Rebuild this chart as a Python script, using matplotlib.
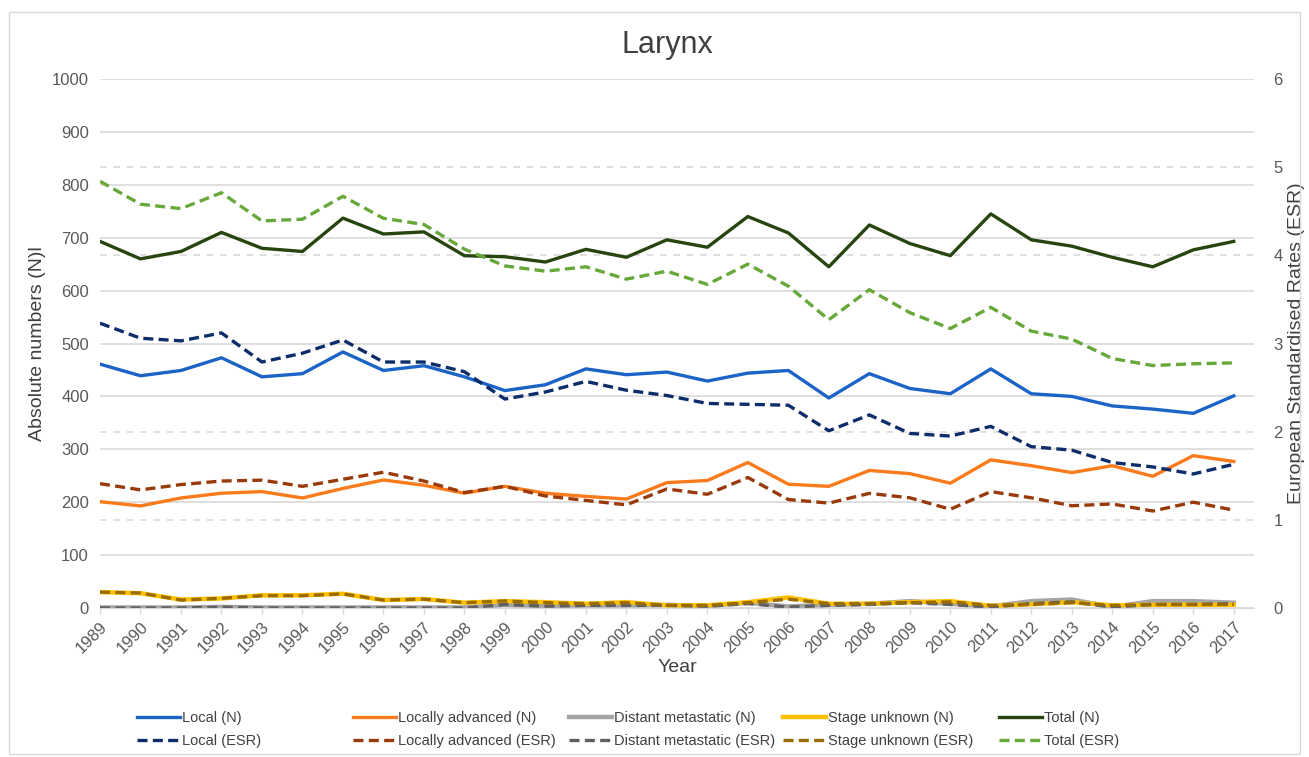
import numpy as np
import matplotlib.pyplot as plt
from matplotlib.ticker import MultipleLocator
from matplotlib.patches import Rectangle

plt.rcParams['font.family'] = ['Liberation Sans', 'DejaVu Sans']

years = list(range(1989, 2018))

# absolute numbers (left axis)
local_n = [461, 439, 449, 473, 437, 443, 484, 449, 458, 437, 411, 422, 452, 441, 446,
           429, 444, 449, 397, 443, 415, 405, 452, 405, 400, 382, 376, 368, 401]
loc_adv_n = [201, 193, 208, 217, 220, 208, 226, 242, 232, 217, 230, 217, 211, 206, 237,
             241, 275, 234, 230, 260, 254, 236, 280, 269, 256, 269, 249, 288, 277]
distant_n = [1, 1, 1, 2, 1, 1, 1, 1, 1, 1, 6, 4, 5, 5, 6,
             4, 10, 3, 6, 8, 13, 8, 3, 13, 16, 2, 13, 13, 10]
unknown_n = [30, 28, 16, 18, 24, 24, 27, 15, 17, 10, 13, 11, 8, 11, 5,
             5, 11, 20, 8, 8, 11, 13, 4, 7, 11, 5, 6, 6, 6]
total_n = [693, 660, 674, 710, 680, 674, 737, 707, 711, 666, 664, 654, 678, 663, 696,
           682, 740, 709, 645, 724, 689, 666, 745, 696, 684, 663, 645, 677, 693]

# European standardised rates (right axis)
local_esr = [3.23, 3.06, 3.03, 3.12, 2.79, 2.89, 3.04, 2.79, 2.79, 2.68, 2.37, 2.45, 2.57, 2.47, 2.41,
             2.32, 2.31, 2.30, 2.01, 2.19, 1.98, 1.95, 2.06, 1.83, 1.79, 1.65, 1.60, 1.52, 1.63]
loc_adv_esr = [1.41, 1.34, 1.40, 1.44, 1.45, 1.38, 1.46, 1.54, 1.44, 1.31, 1.38, 1.27, 1.22, 1.17, 1.35,
               1.29, 1.48, 1.23, 1.19, 1.30, 1.25, 1.12, 1.32, 1.25, 1.16, 1.18, 1.10, 1.20, 1.11]
distant_esr = [0.0, 0.0, 0.0, 0.01, 0.0, 0.0, 0.0, 0.0, 0.0, 0.0, 0.04, 0.02, 0.03, 0.03, 0.03,
               0.02, 0.05, 0.01, 0.03, 0.04, 0.06, 0.04, 0.01, 0.05, 0.07, 0.01, 0.04, 0.04, 0.05]
unknown_esr = [0.18, 0.17, 0.09, 0.11, 0.14, 0.14, 0.16, 0.09, 0.10, 0.06, 0.08, 0.06, 0.05, 0.06, 0.03,
               0.03, 0.06, 0.10, 0.05, 0.05, 0.06, 0.07, 0.03, 0.04, 0.06, 0.03, 0.04, 0.04, 0.04]
total_esr = [4.84, 4.58, 4.53, 4.71, 4.39, 4.41, 4.67, 4.42, 4.35, 4.07, 3.88, 3.82, 3.87, 3.73, 3.82,
             3.67, 3.90, 3.65, 3.27, 3.61, 3.35, 3.17, 3.41, 3.14, 3.05, 2.83, 2.75, 2.77, 2.78]

fig = plt.figure(figsize=(13.09, 7.57), dpi=100)
fig.patches.append(Rectangle((9 / 1309, 3 / 757), 1291 / 1309, 742 / 757, transform=fig.transFigure,
                             fill=False, edgecolor='#d9d9d9', linewidth=1))

ax = fig.add_axes([100 / 1309, 1 - 608 / 757, 1154 / 1309, 529 / 757])
ax2 = ax.twinx()

lw = 2.4
dash = (3, 1.6)
ax.plot(years, local_n, color='#1c63c8', lw=lw, label='Local (N)')
ax.plot(years, loc_adv_n, color='#fb7a1b', lw=lw, label='Locally advanced (N)')
ax.plot(years, distant_n, color='#a5a5a5', lw=lw + 0.8, label='Distant metastatic (N)')
ax.plot(years, unknown_n, color='#ffc000', lw=lw + 0.8, label='Stage unknown (N)')
ax.plot(years, total_n, color='#27450f', lw=lw, label='Total (N)')

ax2.plot(years, local_esr, color='#0c2d69', lw=lw, dashes=dash, label='Local (ESR)')
ax2.plot(years, loc_adv_esr, color='#993a0b', lw=lw, dashes=dash, label='Locally advanced (ESR)')
ax2.plot(years, distant_esr, color='#5f5f5f', lw=lw, dashes=dash, label='Distant metastatic (ESR)')
ax2.plot(years, unknown_esr, color='#9b6c00', lw=lw, dashes=dash, label='Stage unknown (ESR)')
ax2.plot(years, total_esr, color='#66a83a', lw=lw, dashes=dash, label='Total (ESR)')

ax.set_xlim(1989, 2017.5)
ax.set_ylim(0, 1000)
ax2.set_ylim(0, 6)
ax.yaxis.set_major_locator(MultipleLocator(100))
ax.yaxis.set_minor_locator(MultipleLocator(1000 / 6))
ax2.yaxis.set_major_locator(MultipleLocator(1))
ax.grid(which='major', axis='y', color='#d9d9d9', lw=1.2)
ax.grid(which='minor', axis='y', color='#d9d9d9', lw=1.2, linestyle=(0, (4, 4)))
ax.set_axisbelow(True)

ax.set_xticks(years)
ax.set_xticklabels([str(y) for y in years], rotation=45, ha='right', rotation_mode='anchor')
ax.tick_params(axis='x', colors='#595959', labelsize=12, length=4, width=1, pad=4, color='#d9d9d9')
ax.tick_params(axis='y', colors='#595959', labelsize=12, length=0, pad=8)
ax.tick_params(axis='y', which='minor', length=0)
ax2.tick_params(axis='y', colors='#595959', labelsize=12, length=0, pad=14)

for a in (ax, ax2):
    for s in ('left', 'right', 'top'):
        a.spines[s].set_visible(False)
    a.spines['bottom'].set_color('#d9d9d9')

ax.set_xlabel('Year', fontsize=14, color='#404040', labelpad=2)
ax.set_ylabel('Absolute numbers (N)l', fontsize=14, color='#404040', labelpad=4)
ax2.set_ylabel('European Standardised Rates (ESR)', fontsize=14, color='#404040', labelpad=4)
fig.text(0.51, 0.94, 'Larynx', ha='center', va='center', fontsize=22, color='#404040')

h1, l1 = ax.get_legend_handles_labels()
h2, l2 = ax2.get_legend_handles_labels()
col_x = [130, 346, 562, 776, 992]
for i, x in enumerate(col_x):
    fig.legend([h1[i], h2[i]], [l1[i], l2[i]], loc='upper left',
               bbox_to_anchor=(x / 1309, 1 - 704 / 757), frameon=False, fontsize=10.5,
               handlelength=2.9, handletextpad=0.15, labelspacing=0.6, borderpad=0,
               labelcolor='#404040')

fig.savefig('out.png', dpi=100)
